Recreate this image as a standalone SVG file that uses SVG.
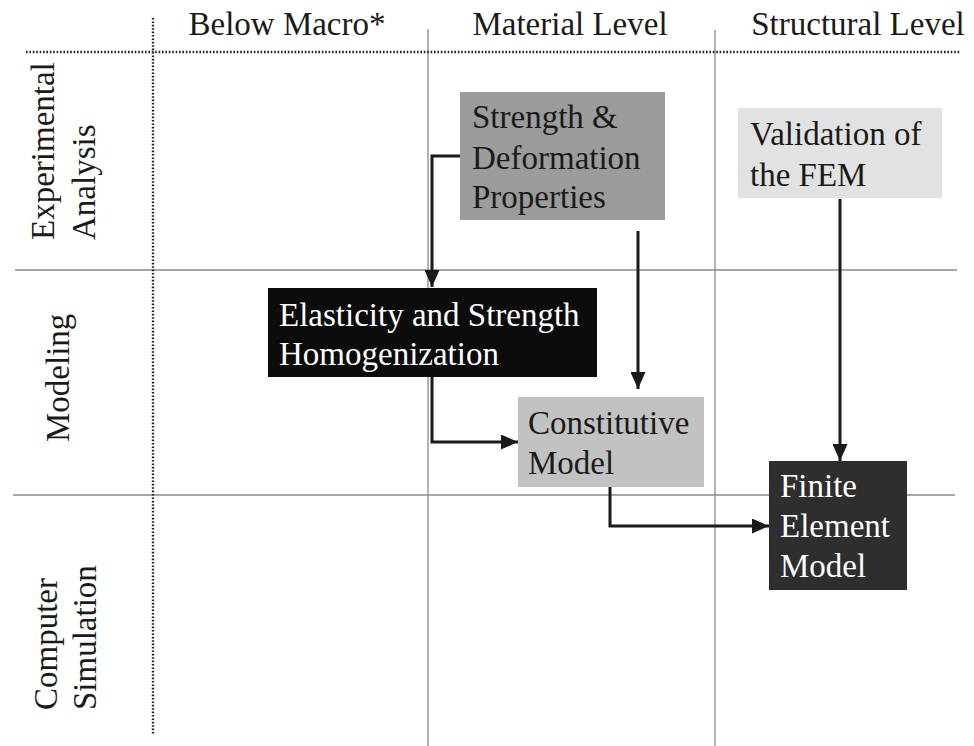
<svg xmlns="http://www.w3.org/2000/svg" width="974" height="746" viewBox="0 0 974 746">
  <style>
    text { font-family: 'Liberation Serif', 'Tinos', 'DejaVu Serif', serif; font-size: 33px; fill: #1a1a1a; }
    .light { fill: #ffffff; }
    .dotted { stroke: #222; stroke-width: 2.4; stroke-dasharray: 1.6 1.8; fill: none; }
    .thin { stroke: #8a8a8a; stroke-width: 1.3; fill: none; }
    .conn { stroke: #1a1a1a; stroke-width: 3; fill: none; }
  </style>
  <defs>
    <marker id="arrow" viewBox="0 0 17 15" refX="17" refY="7.5" markerWidth="17" markerHeight="15" markerUnits="userSpaceOnUse" orient="auto">
      <path d="M0,0 L17,7.5 L0,15 Z" fill="#1a1a1a"/>
    </marker>
  </defs>
  <rect width="974" height="746" fill="#ffffff"/>

  <!-- grid -->
  <g id="grid">
    <line class="thin" x1="428" y1="29" x2="428" y2="746"/>
    <line class="thin" x1="715" y1="30" x2="715" y2="746"/>
    <line class="thin" x1="15" y1="270" x2="957" y2="270"/>
    <line class="thin" x1="13" y1="495" x2="955" y2="495"/>
    <line class="dotted" x1="26" y1="52" x2="961" y2="52"/>
    <line class="dotted" x1="153" y1="18" x2="153" y2="734"/>
  </g>

  <!-- column headers -->
  <g id="headers" font-family="Liberation Serif, serif">
    <text x="287" y="35" text-anchor="middle">Below Macro*</text>
    <text x="570" y="35" text-anchor="middle">Material Level</text>
    <text x="858" y="35" text-anchor="middle">Structural Level</text>
  </g>

  <!-- row headers -->
  <g id="rows">
    <text transform="translate(54,240) rotate(-90)">Experimental</text>
    <text transform="translate(95,240) rotate(-90)">Analysis</text>
    <text transform="translate(69,442) rotate(-90)">Modeling</text>
    <text transform="translate(57,710) rotate(-90)">Computer</text>
    <text transform="translate(96,710) rotate(-90)">Simulation</text>
  </g>

  <!-- connectors -->
  <g id="connectors">
    <path class="conn" d="M460,156 H432 V287" marker-end="url(#arrow)"/>
    <path class="conn" d="M432,377 V442 H518" marker-end="url(#arrow)"/>
    <path class="conn" d="M638,231 V389" marker-end="url(#arrow)"/>
    <path class="conn" d="M840,199 V461" marker-end="url(#arrow)"/>
    <path class="conn" d="M610,487 V526 H769" marker-end="url(#arrow)"/>
  </g>

  <g id="strength">
    <rect x="460" y="92" width="205" height="128" fill="#9c9c9c"/>
    <text x="472" y="128">Strength &amp;</text>
    <text x="472" y="169">Deformation</text>
    <text x="472" y="208">Properties</text>
  </g>

  <g id="validation">
    <rect x="738" y="108" width="204" height="90" fill="#e2e2e2"/>
    <text x="750" y="145">Validation of</text>
    <text x="750" y="186">the FEM</text>
  </g>

  <g id="homogenization">
    <rect x="268" y="288" width="329" height="89" fill="#0c0c0c"/>
    <text class="light" x="279" y="326">Elasticity and Strength</text>
    <text class="light" x="279" y="365">Homogenization</text>
  </g>

  <g id="constitutive">
    <rect x="518" y="397" width="186" height="90" fill="#c2c2c2"/>
    <text x="528" y="434">Constitutive</text>
    <text x="528" y="474">Model</text>
  </g>

  <g id="fem">
    <rect x="769" y="461" width="138" height="129" fill="#2e2e2e"/>
    <text class="light" x="780" y="497">Finite</text>
    <text class="light" x="780" y="537">Element</text>
    <text class="light" x="780" y="577">Model</text>
  </g>
</svg>
